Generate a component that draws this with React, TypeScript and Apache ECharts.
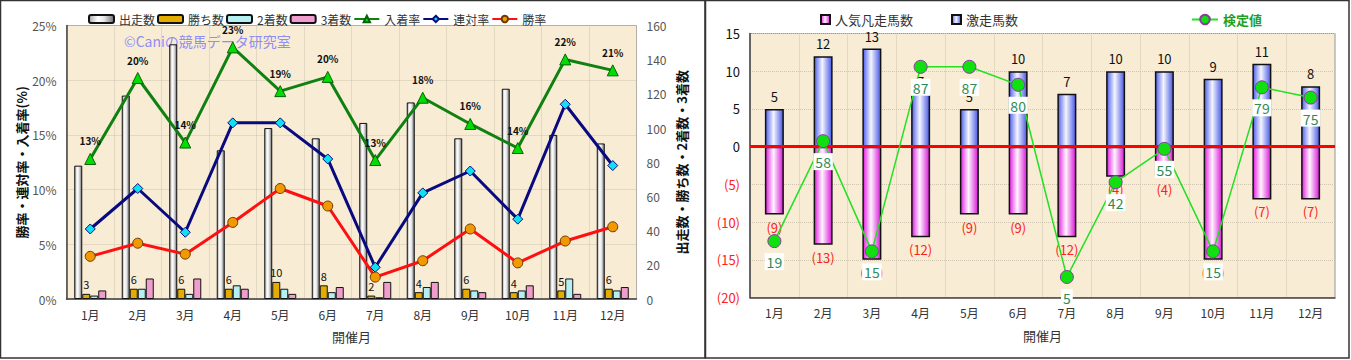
import React, { useEffect, useRef } from "react";
import * as echarts from "echarts";

const months = ["1月", "2月", "3月", "4月", "5月", "6月", "7月", "8月", "9月", "10月", "11月", "12月"];

// left chart
const runs = [78, 119, 149, 87, 100, 94, 103, 115, 94, 123, 96, 91];
const wins = [3, 6, 6, 6, 10, 8, 2, 4, 6, 4, 5, 6];
const seconds = [2, 6, 3, 8, 6, 4, 1, 7, 5, 5, 12, 5];
const thirds = [5, 12, 12, 6, 3, 7, 10, 10, 4, 8, 3, 7];
const placeRate = [12.8, 20.2, 14.3, 23.0, 19.0, 20.3, 12.7, 18.4, 16.0, 13.8, 21.9, 20.9];
const quinellaRate = [6.4, 10.1, 6.1, 16.1, 16.1, 12.8, 2.9, 9.7, 11.7, 7.3, 17.8, 12.2];
const winRate = [3.9, 5.1, 4.1, 7.0, 10.1, 8.5, 2.0, 3.5, 6.4, 3.3, 5.3, 6.6];
const leftTicks = [0, 5, 10, 15, 20, 25];
const rightTicks = [0, 20, 40, 60, 80, 100, 120, 140, 160];

// right chart
const upsets = [5, 12, 13, 7, 5, 10, 7, 10, 10, 9, 11, 8];
const flops = [9, 13, 15, 12, 9, 9, 12, 4, 4, 15, 7, 7];
const testValues = [19, 58, 15, 87, 87, 80, 5, 42, 55, 15, 79, 75];
const countTicks = [-20, -15, -10, -5, 0, 5, 10, 15];

const FONT = "'Noto Sans CJK JP', 'Noto Sans', sans-serif";
const PLOT_BG = "#f8ecd4";
const SPLIT = { show: true, lineStyle: { color: "#cfc4b0", type: "dotted" as const, width: 1 } };

const hGrad = (stops: [number, string][]) =>
  new echarts.graphic.LinearGradient(0, 0, 1, 0, stops.map(([offset, color]) => ({ offset, color })));

export default function App() {
  const ref = useRef<HTMLDivElement>(null);
  useEffect(() => {
    if (!ref.current) return;
    const chart = echarts.init(ref.current, null, { renderer: "svg" });
    const option: any = {
      animation: false,
      textStyle: { fontFamily: FONT },
      graphic: [
        { type: "rect", shape: { x: 0.5, y: 0.5, width: 704.5, height: 357.5 }, style: { fill: "none", stroke: "#333", lineWidth: 1.5 }, silent: true },
        { type: "rect", shape: { x: 705.5, y: 0.5, width: 643.5, height: 357.5 }, style: { fill: "none", stroke: "#333", lineWidth: 1.5 }, silent: true },
        { type: "text", left: 124, top: 34, z: 1, style: { text: "©Caniの競馬データ研究室", fill: "#8e8ef5", fontSize: 14, fontFamily: FONT } },
      ],
      legend: [
        {
          left: 83, top: 8, itemWidth: 25, itemHeight: 8, itemGap: 2,
          textStyle: { fontSize: 12, color: "#333", fontFamily: FONT },
          data: [
            { name: "出走数", icon: "roundRect" },
            { name: "勝ち数", icon: "roundRect" },
            { name: "2着数", icon: "roundRect" },
            { name: "3着数", icon: "roundRect" },
            "入着率", "連対率", "勝率",
          ],
        },
        {
          left: 815, top: 8, itemWidth: 9, itemHeight: 9, itemGap: 38,
          textStyle: { fontSize: 13, color: "#333", fontFamily: FONT },
          data: [{ name: "人気凡走馬数", icon: "rect" }, { name: "激走馬数", icon: "rect" }],
        },
        {
          left: 1186, top: 8, itemWidth: 26, itemHeight: 12,
          textStyle: { fontSize: 13, color: "#1f9f1f", fontWeight: "bold", fontFamily: FONT },
          data: ["検定値"],
        },
      ],
      grid: [
        { left: 66.5, top: 25.5, width: 570, height: 273.5, show: true, backgroundColor: PLOT_BG, borderColor: "#9a9a9a", borderWidth: 1 },
        { left: 750, top: 33.5, width: 585, height: 264, show: true, backgroundColor: PLOT_BG, borderColor: "#9a9a9a", borderWidth: 1 },
      ],
      xAxis: [
        {
          type: "category", gridIndex: 0, data: months,
          axisLine: { lineStyle: { color: "#444", width: 1.5 } }, axisTick: { show: false },
          axisLabel: { color: "#333", fontSize: 12, margin: 9 },
          splitLine: SPLIT,
          name: "開催月", nameLocation: "middle", nameGap: 31, nameTextStyle: { color: "#333", fontSize: 13 },
        },
        {
          type: "category", gridIndex: 1, data: months,
          axisLine: { onZero: false, lineStyle: { color: "#444", width: 1.5 } }, axisTick: { show: false },
          axisLabel: { color: "#333", fontSize: 12, margin: 9 },
          splitLine: SPLIT,
          name: "開催月", nameLocation: "middle", nameGap: 31, nameTextStyle: { color: "#333", fontSize: 13 },
        },
      ],
      yAxis: [
        {
          type: "value", gridIndex: 0, min: leftTicks[0], max: leftTicks[leftTicks.length - 1], interval: 5,
          axisLine: { show: true, lineStyle: { color: "#444", width: 1.5 } }, axisTick: { show: false },
          axisLabel: { formatter: "{value}%", color: "#555", fontSize: 12, margin: 10 },
          splitLine: SPLIT,
          name: "勝率・連対率・入着率(%)", nameLocation: "middle", nameGap: 38, nameRotate: 90,
          nameTextStyle: { color: "#111", fontSize: 13, fontWeight: "bold" },
        },
        {
          type: "value", gridIndex: 0, position: "right", min: rightTicks[0], max: rightTicks[rightTicks.length - 1], interval: 20,
          axisLine: { show: false }, axisTick: { show: false },
          axisLabel: { color: "#555", fontSize: 12, margin: 10 },
          splitLine: { show: false },
          name: "出走数・勝ち数・2着数・3着数", nameLocation: "middle", nameGap: 38, nameRotate: 90,
          nameTextStyle: { color: "#111", fontSize: 13, fontWeight: "bold" },
        },
        {
          type: "value", gridIndex: 1, min: countTicks[0], max: countTicks[countTicks.length - 1], interval: 5,
          axisLine: { show: true, onZero: false, lineStyle: { color: "#444", width: 1.5 } }, axisTick: { show: false },
          axisLabel: {
            fontSize: 13, margin: 10,
            formatter: (v: number) => (v < 0 ? `{r|(${-v})}` : `{k|${v}}`),
            rich: { r: { color: "#ff2020", fontSize: 13 }, k: { color: "#111", fontSize: 13 } },
          },
          splitLine: SPLIT,
        },
        { type: "value", gridIndex: 1, min: -3, max: 100, show: false, splitLine: { show: false } },
      ],
      series: [
        {
          name: "出走数", type: "bar", xAxisIndex: 0, yAxisIndex: 1, data: runs, barWidth: 8, barGap: "0%",
          itemStyle: { color: hGrad([[0, "#a8a8a8"], [0.35, "#ffffff"], [0.6, "#e6e6e6"], [1, "#6e6e6e"]]), borderColor: "#111", borderWidth: 1 },
        },
        {
          name: "勝ち数", type: "bar", xAxisIndex: 0, yAxisIndex: 1, data: wins, barWidth: 8,
          itemStyle: { color: "#e4ac00", borderColor: "#111", borderWidth: 1 },
          label: { show: true, position: "top", distance: 4, color: "#111", fontSize: 11 },
        },
        {
          name: "2着数", type: "bar", xAxisIndex: 0, yAxisIndex: 1, data: seconds, barWidth: 8,
          itemStyle: { color: "#b4f0f0", borderColor: "#111", borderWidth: 1 },
        },
        {
          name: "3着数", type: "bar", xAxisIndex: 0, yAxisIndex: 1, data: thirds, barWidth: 8,
          itemStyle: { color: "#f09ccc", borderColor: "#111", borderWidth: 1 },
        },
        {
          name: "入着率", type: "line", xAxisIndex: 0, yAxisIndex: 0, data: placeRate, z: 5,
          lineStyle: { color: "#108010", width: 3 }, symbol: "triangle", symbolSize: 11,
          itemStyle: { color: "#00dd00", borderColor: "#0a600a", borderWidth: 1 },
          label: { show: true, position: "top", distance: 7, color: "#111", fontSize: 10, fontWeight: "bold", formatter: (p: any) => `${Math.round(p.value)}%` },
        },
        {
          name: "連対率", type: "line", xAxisIndex: 0, yAxisIndex: 0, data: quinellaRate, z: 5,
          lineStyle: { color: "#0a0a80", width: 3 }, symbol: "diamond", symbolSize: 10,
          itemStyle: { color: "#10e0f0", borderColor: "#0a0a80", borderWidth: 1 },
        },
        {
          name: "勝率", type: "line", xAxisIndex: 0, yAxisIndex: 0, data: winRate, z: 5,
          lineStyle: { color: "#ff1010", width: 3 }, symbol: "circle", symbolSize: 10,
          itemStyle: { color: "#f39800", borderColor: "#6a3a00", borderWidth: 1 },
        },
        {
          name: "人気凡走馬数", type: "bar", xAxisIndex: 1, yAxisIndex: 2, data: flops.map((v) => -v), barWidth: 19, barGap: "-100%",
          itemStyle: { color: hGrad([[0, "#e020e0"], [0.45, "#fff4ff"], [1, "#d818d8"]]), borderColor: "#111", borderWidth: 1.5 },
          label: { show: true, position: "bottom", distance: 6, color: "#ff2020", fontSize: 13, formatter: (p: any) => `(${Math.abs(p.value)})` },
        },
        {
          name: "激走馬数", type: "bar", xAxisIndex: 1, yAxisIndex: 2, data: upsets, barWidth: 19,
          itemStyle: { color: hGrad([[0, "#5060ec"], [0.45, "#f4f6ff"], [1, "#4858e4"]]), borderColor: "#111", borderWidth: 1.5 },
          label: { show: true, position: "top", distance: 6, color: "#111", fontSize: 13 },
          markLine: {
            silent: true, symbol: "none", label: { show: false },
            lineStyle: { color: "#ff0000", width: 3, type: "solid" },
            data: [{ yAxis: 0 }],
          },
        },
        {
          name: "検定値", type: "line", xAxisIndex: 1, yAxisIndex: 3, data: testValues, z: 5,
          lineStyle: { color: "#22e022", width: 1.5 }, symbol: "circle", symbolSize: 13,
          itemStyle: { color: "#10e010", borderColor: "#8a3aa0", borderWidth: 1 },
          label: {
            show: true, position: "bottom", distance: 5, color: "#2e8b57", fontSize: 14,
            backgroundColor: "#ffffff", padding: [2, 2, 1, 2],
          },
        },
      ],
    };
    chart.setOption(option);
    return () => chart.dispose();
  }, []);
  return (
    <div
      ref={ref}
      style={{ position: "fixed", left: 0, top: 0, width: 1351, height: 360, background: "#fff" }}
    />
  );
}
